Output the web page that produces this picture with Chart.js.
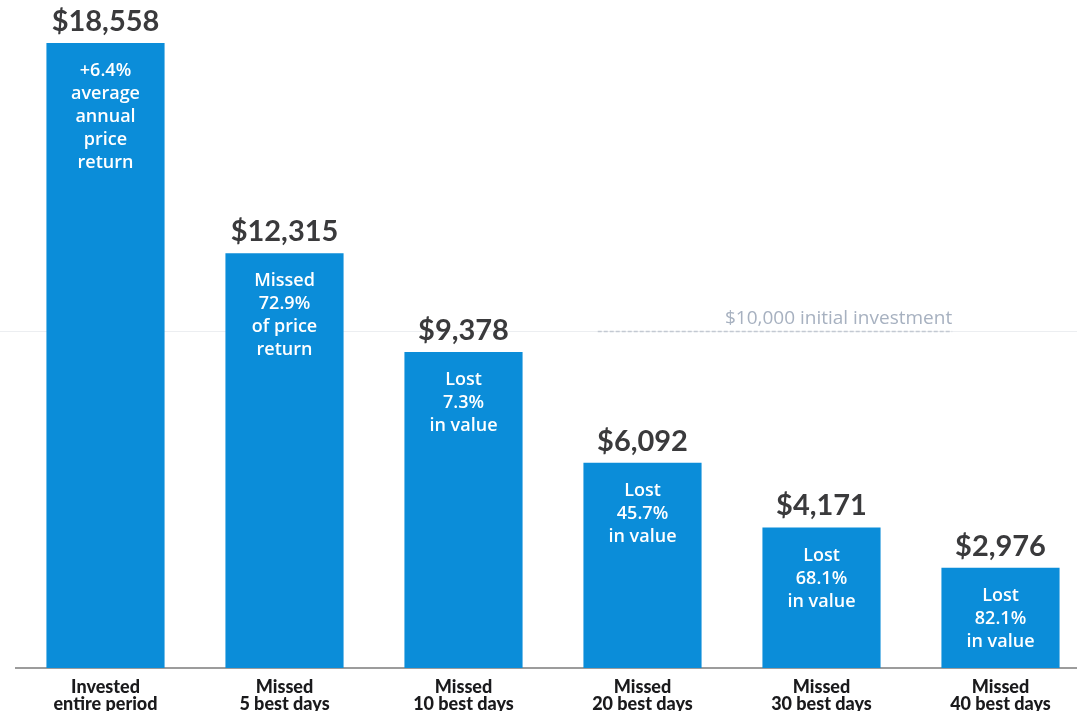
<!DOCTYPE html>
<html>
<head>
<meta charset="utf-8">
<script src="https://cdn.jsdelivr.net/npm/chart.js@4/dist/chart.umd.min.js"></script>
<style>
  html, body { margin: 0; background: #fff; overflow: hidden; }
  #wrap { position: relative; width: 1100px; height: 720px; }
</style>
</head>
<body>
<div id="wrap"><canvas id="chart"></canvas></div>
<script>
// Growth of $10,000 when staying invested vs. missing the best days.
const CATEGORIES = [
  ["Invested", "entire period"],
  ["Missed", "5 best days"],
  ["Missed", "10 best days"],
  ["Missed", "20 best days"],
  ["Missed", "30 best days"],
  ["Missed", "40 best days"]
]
const VALUES = [18558, 12315, 9378, 6092, 4171, 2976]
const BAR_NOTES = [
  ["+6.4%", "average", "annual", "price", "return"],
  ["Missed", "72.9%", "of price", "return"],
  ["Lost", "7.3%", "in value"],
  ["Lost", "45.7%", "in value"],
  ["Lost", "68.1%", "in value"],
  ["Lost", "82.1%", "in value"]
]
const INITIAL_INVESTMENT = 10000
const INITIAL_LABEL = "$10,000 initial investment"

const BAR_COLOR = "#0b8dd9"
const VALUE_COLOR = "#3a3a3c"
const NOTE_COLOR = "#ffffff"
const REF_COLOR = "#a7b1c0"
const FONT = "Lato, 'Open Sans', sans-serif"
const NOTE_FONT = "'Open Sans', Lato, sans-serif"

const money = new Intl.NumberFormat("en-US", { style: "currency", currency: "USD", maximumFractionDigits: 0 })

// Reference line for the starting amount, drawn under the bars.
const initialLine = {
  id: "initialLine",
  beforeDatasetsDraw(chart) {
    const { ctx, scales } = chart
    const y = Math.round(scales.y.getPixelForValue(INITIAL_INVESTMENT)) + 0.5
    const step = scales.x.getPixelForValue(1) - scales.x.getPixelForValue(0)
    const dashFrom = scales.x.getPixelForValue(3) - step * 0.25
    const dashTo = scales.x.getPixelForValue(5) - step * 0.27
    ctx.save()
    ctx.strokeStyle = "#eceef1"
    ctx.lineWidth = 1
    ctx.beginPath()
    ctx.moveTo(0, y)
    ctx.lineTo(chart.width, y)
    ctx.stroke()
    ctx.strokeStyle = "#c3c9d2"
    ctx.lineWidth = 1.5
    ctx.setLineDash([4, 2])
    ctx.beginPath()
    ctx.moveTo(dashFrom, y)
    ctx.lineTo(dashTo, y)
    ctx.stroke()
    ctx.setLineDash([])
    ctx.fillStyle = REF_COLOR
    ctx.font = `19px ${NOTE_FONT}`
    ctx.textAlign = "right"
    ctx.textBaseline = "bottom"
    ctx.fillText(INITIAL_LABEL, dashTo, y - 3)
    ctx.restore()
  }
}

// Dollar value above each bar and the white note inside it.
const barText = {
  id: "barText",
  afterDatasetsDraw(chart) {
    const { ctx } = chart
    const bars = chart.getDatasetMeta(0).data
    ctx.save()
    ctx.textAlign = "center"
    bars.forEach((bar, i) => {
      ctx.fillStyle = VALUE_COLOR
      ctx.font = `bold 29px ${FONT}`
      ctx.textBaseline = "bottom"
      ctx.fillText(money.format(VALUES[i]), bar.x, bar.y - 7)

      ctx.fillStyle = NOTE_COLOR
      ctx.font = `600 18px ${NOTE_FONT}`
      ctx.textBaseline = "middle"
      BAR_NOTES[i].forEach((line, j) => {
        ctx.fillText(line, bar.x, bar.y + 28 + j * 23)
      })
    })
    ctx.restore()
  }
}

new Chart(document.getElementById("chart"), {
  type: "bar",
  plugins: [initialLine, barText],
  data: {
    labels: CATEGORIES,
    datasets: [{
      data: VALUES,
      backgroundColor: BAR_COLOR,
      borderWidth: 0,
      categoryPercentage: 1,
      barPercentage: 0.66
    }]
  },
  options: {
    responsive: true,
    maintainAspectRatio: false,
    animation: false,
    layout: { padding: { top: 28, left: 16, right: 10, bottom: 0 } },
    plugins: { legend: { display: false }, tooltip: { enabled: false } },
    scales: {
      x: {
        grid: { display: false },
        border: { display: true, color: "#9c9c9c", width: 2 },
        afterFit: (scale) => { scale.height = 52 },
        ticks: {
          autoSkip: false,
          maxRotation: 0,
          padding: 3,
          color: "#1a1a1c",
          font: { family: FONT, weight: 900, size: 18, lineHeight: 0.95 }
        }
      },
      y: {
        display: false,
        min: 0,
        max: 19000
      }
    }
  }
})
</script>
</body>
</html>
